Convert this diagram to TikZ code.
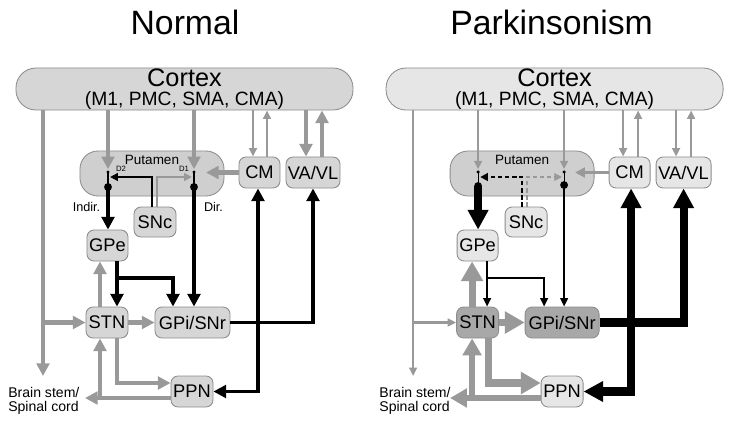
\documentclass[tikz,border=0pt]{standalone}
\usepackage{fontspec}
\setmainfont{Liberation Sans}
\usetikzlibrary{arrows.meta}

\definecolor{bahngrau}{HTML}{999999}
\definecolor{rahmengrau}{HTML}{8C8C8C}
\definecolor{kernN}{HTML}{D6D6D6}
\definecolor{kernhell}{HTML}{E6E6E6}
\definecolor{kerndunkel}{HTML}{A8A8A8}
\definecolor{putgrau}{HTML}{CFCFCF}

\newcommand{\cortexsub}{\fontsize{13.7}{14}\selectfont}

\begin{document}
\begin{tikzpicture}[x=0.025cm, y=-0.025cm]

    % --- Grundeinstellungen für Styles ---
    \tikzset{
        % Basis-Stil für alle Kästen
        box/.style={
            draw=rahmengrau,
            line width=0.6pt,
            rounded corners=5pt,
            inner sep=0pt,
            align=center
        },
        % Kerne
        nucleus/.style={
            box,
            font=\fontsize{13}{15}\selectfont,
            minimum width=1.05cm,
            minimum height=0.775cm
        },
        cortexbox/.style={
            box,
            rounded corners=0.5cm,
            font=\fontsize{18}{14}\selectfont,
            minimum width=8.425cm,
            minimum height=1.05cm
        },
        putamenbox/.style={
            box,
            fill=putgrau,
            rounded corners=0.45cm,
            minimum width=3.6cm,
            minimum height=1.125cm
        },
        % Stile für freistehende Beschriftungen
        titletext/.style={font=\fontsize{24}{28}\selectfont},
        labeltext/.style={font=\fontsize{9}{10}\selectfont, inner sep=0pt},
        tinytext/.style={font=\fontsize{5.5}{6}\selectfont, inner sep=0pt},
        % Stile für Bahnen (grau = erregend, schwarz = hemmend)
        gthin/.style={draw=bahngrau, line width=1.5pt, -{Triangle[length=6pt, width=5.5pt]}},
        gmid/.style={draw=bahngrau, line width=3.5pt, -{Triangle[length=9pt, width=9pt]}},
        gthick/.style={draw=bahngrau, line width=5pt, -{Triangle[length=14pt, width=15pt]}},
        kthin/.style={draw=black, line width=1.2pt, -{Triangle[length=6pt, width=5.5pt]}},
        kmid/.style={draw=black, line width=2.8pt, -{Triangle[length=9pt, width=9pt]}},
        kthick/.style={draw=black, line width=5.7pt, -{Triangle[length=14pt, width=14pt]}},
        ksnc/.style={draw=black, line width=1.8pt, shorten >=1.5pt, -{Triangle[length=5.5pt, width=5.5pt]}},
        gsnc/.style={draw=bahngrau, line width=1.8pt, shorten >=1.5pt, -{Triangle[length=5.5pt, width=5.5pt]}},
        rezeptor/.style={draw=black, line width=0.8pt}
    }

    \useasboundingbox (0,0) rectangle (732,422);

    % --- 1. Normal ---
    \node[titletext] (titleN) at (185,22.5) {Normal};

    % Kästen
    \node[cortexbox, fill=kernN] (cortexN) at (184.5,89) {Cortex\\{\cortexsub (M1, PMC, SMA, CMA)}};
    \node[putamenbox] (putN) at (152,173.5) {};
    \node[labeltext, font=\fontsize{9.6}{10}\selectfont] (putlabN) at (152,160) {Putamen};
    \node[nucleus, fill=kernN, minimum width=1.025cm] (cmN) at (259.5,172.5) {CM};
    \node[nucleus, fill=kernN, minimum width=1.35cm] (vaN) at (313,172.5) {VA/VL};
    \node[nucleus, fill=kernN, minimum height=0.75cm] (sncN) at (155,222) {SNc};
    \node[nucleus, fill=kernN, minimum width=1.025cm] (gpeN) at (107.5,245.5) {GPe};
    \node[nucleus, fill=kernN] (stnN) at (107,322.5) {STN};
    \node[nucleus, fill=kernN, minimum width=1.875cm] (gpiN) at (192.5,322.5) {GPi/SNr};
    \node[nucleus, fill=kernN] (ppnN) at (192,391.5) {PPN};
    \node[labeltext, font=\fontsize{10}{9.5}\selectfont, align=left, anchor=west] (bsN) at (8,401) {Brain stem/\\Spinal cord};

    % Beschriftungen der Bahnen
    \node[labeltext] (indirN) at (86.5,207) {Indir.};
    \node[labeltext] (dirN) at (213.5,207) {Dir.};
    \node[tinytext] (d2labN) at (121,169) {D2};
    \node[tinytext] (d1labN) at (184,169) {D1};

    % Rezeptoren im Putamen
    \coordinate (d2topN) at (108,172);
    \coordinate (d2N) at (108,187);
    \coordinate (d1topN) at (194,172);
    \coordinate (d1N) at (194,187);
    \draw[rezeptor] (d2topN) -- (d2N);
    \draw[rezeptor] (d1topN) -- (d1N);
    \fill (d2topN) circle (1.2pt) (d1topN) circle (1.2pt);
    \fill (d2N) circle (2.8pt) (d1N) circle (2.8pt);

    % Kortex und Thalamus
    \coordinate (bsTipN) at (43,376);
    \draw[gmid] (43,0 |- cortexN.south) -- (bsTipN);
    \draw[gmid] (43,0 |- stnN.west) -- (stnN.west);
    \draw[gmid, shorten >=2pt] (d2topN |- cortexN.south) -- (d2topN);
    \draw[gmid, shorten >=2pt] (d1topN |- cortexN.south) -- (d1topN);
    \draw[gthin] (253,0 |- cortexN.south) -- (253,0 |- cmN.north);
    \draw[gthin] (267,0 |- cmN.north) -- (267,0 |- cortexN.south);
    \draw[gmid] (306,0 |- cortexN.south) -- (306,0 |- vaN.north);
    \draw[gmid] (322,0 |- vaN.north) -- (322,0 |- cortexN.south);
    \draw[gmid] (cmN.west) -- (206,0 |- cmN.west);

    % SNc (Dopamin)
    \coordinate (sncKN) at (152,177);
    \coordinate (sncGN) at (157,177);
    \draw[ksnc] (sncKN |- sncN.north) -- (sncKN) -- (d2topN |- sncKN);
    \draw[gsnc] (sncGN |- sncN.north) -- (sncGN) -- (d1topN |- sncGN);

    % Basalganglien
    \draw[kmid] (d2N) -- (d2N |- gpeN.north);
    \draw[kmid] (d1N) -- (d1N |- gpiN.north);
    \draw[kmid] (117,0 |- gpeN.south) -- (117,0 |- stnN.north);
    \coordinate (gpeBrN) at (117,278);
    \draw[kmid] (gpeBrN) -| (173,0 |- gpiN.north);
    \draw[gmid] (100,0 |- stnN.north) -- (100,0 |- gpeN.south);
    \draw[gmid] (stnN.east) -- (gpiN.west);
    \draw[gmid] (117,0 |- stnN.south) |- (ppnN.west |- 0,383);
    \coordinate (bsTip2N) at (85,398);
    \draw[gmid] (ppnN.west |- bsTip2N) -- (bsTip2N);
    \coordinate (ppnBrN) at (100,398);
    \draw[gmid] (ppnBrN) -- (ppnBrN |- stnN.south);

    % Ausgänge GPi/SNr
    \draw[kmid] (gpiN.east) -| (vaN.south);
    \draw[kmid] (258,0 |- gpiN.east) -- (258,0 |- cmN.south);
    \draw[kmid] (258,0 |- gpiN.east) |- (ppnN.east);

    % --- 2. Parkinsonismus ---
    \begin{scope}[xshift=9.25cm]
    \node[titletext] (titleP) at (181.5,22.5) {Parkinsonism};

    % Kästen
    \node[cortexbox, fill=kernhell] (cortexP) at (184.5,89) {Cortex\\{\cortexsub (M1, PMC, SMA, CMA)}};
    \node[putamenbox] (putP) at (152,173.5) {};
    \node[labeltext, font=\fontsize{9.6}{10}\selectfont] (putlabP) at (152,160) {Putamen};
    \node[nucleus, fill=kernhell, minimum width=1.025cm] (cmP) at (259.5,172.5) {CM};
    \node[nucleus, fill=kernhell, minimum width=1.375cm] (vaP) at (313.5,172.5) {VA/VL};
    \node[nucleus, fill=kernhell, minimum height=0.75cm] (sncP) at (156,222) {SNc};
    \node[nucleus, fill=kernhell, minimum width=1.025cm] (gpeP) at (107.5,245.5) {GPe};
    \node[nucleus, fill=kerndunkel] (stnP) at (107.5,322.5) {STN};
    \node[nucleus, fill=kerndunkel, minimum width=1.85cm] (gpiP) at (192,322.5) {GPi/SNr};
    \node[nucleus, fill=kernhell] (ppnP) at (192,391.5) {PPN};
    \node[labeltext, font=\fontsize{10}{9.5}\selectfont, align=left, anchor=west] (bsP) at (9,401) {Brain stem/\\Spinal cord};

    % Rezeptoren im Putamen
    \coordinate (d2topP) at (108,172);
    \coordinate (d2P) at (108,186);
    \coordinate (d1topP) at (194,172);
    \coordinate (d1P) at (194,185);
    \draw[rezeptor] (d2topP) -- (d2P);
    \draw[rezeptor] (d1topP) -- (d1P);
    \fill (d2topP) circle (1.2pt) (d1topP) circle (1.2pt);
    \fill (d2P) circle (2.8pt) (d1P) circle (2.8pt);

    % Kortex und Thalamus
    \coordinate (bsTipP) at (43,376);
    \draw[gthin] (43,0 |- cortexP.south) -- (bsTipP);
    \draw[gthin] (43,0 |- stnP.west) -- (stnP.west);
    \draw[gthin, shorten >=2pt] (d2topP |- cortexP.south) -- (d2topP);
    \draw[gthin, shorten >=2pt] (d1topP |- cortexP.south) -- (d1topP);
    \draw[gthin] (253,0 |- cortexP.south) -- (253,0 |- cmP.north);
    \draw[gthin] (268,0 |- cmP.north) -- (268,0 |- cortexP.south);
    \draw[gthin] (306,0 |- cortexP.south) -- (306,0 |- vaP.north);
    \draw[gthin] (321,0 |- vaP.north) -- (321,0 |- cortexP.south);
    \draw[gthin, line width=2.2pt, -{Triangle[length=7pt, width=7pt]}] (cmP.west) -- (205,0 |- cmP.west);

    % SNc (Dopamin, vermindert)
    \coordinate (sncKP) at (152,177);
    \coordinate (sncGP) at (157,177);
    \draw[ksnc, dash pattern=on 3pt off 2pt] (sncKP |- sncP.north) -- (sncKP) -- (d2topP |- sncKP);
    \draw[gsnc, line width=1.2pt, dash pattern=on 3pt off 2pt] (sncGP |- sncP.north) -- (sncGP) -- (d1topP |- sncGP);

    % Basalganglien
    \draw[kthick] (d2P) -- (d2P |- gpeP.north);
    \draw[kthin] (d1P) -- (d1P |- gpiP.north);
    \draw[kthin] (117,0 |- gpeP.south) -- (117,0 |- stnP.north);
    \coordinate (gpeBrP) at (117,278);
    \draw[kthin] (gpeBrP) -| (174,0 |- gpiP.north);
    \draw[gthick] (102,0 |- stnP.north) -- (102,0 |- gpeP.south);
    \draw[gthick] (stnP.east) -- (gpiP.west);
    \draw[gthick] (118,0 |- stnP.south) |- (ppnP.west |- 0,383);
    \coordinate (bsTip2P) at (80,398);
    \draw[gmid, line width=4pt, -{Triangle[length=12pt, width=13pt]}] (ppnP.west |- bsTip2P) -- (bsTip2P);
    \coordinate (ppnBrP) at (102,398);
    \draw[gmid, line width=4pt, -{Triangle[length=12pt, width=13pt]}] (ppnBrP) -- (ppnBrP |- stnP.south);

    % Ausgänge GPi/SNr
    \draw[kthick] (gpiP.east) -| (vaP.south);
    \draw[kthick] (261,0 |- gpiP.east) -- (261,0 |- cmP.south);
    \draw[kthick] (261,0 |- gpiP.east) |- (ppnP.east);
    \end{scope}

\end{tikzpicture}
\end{document}
